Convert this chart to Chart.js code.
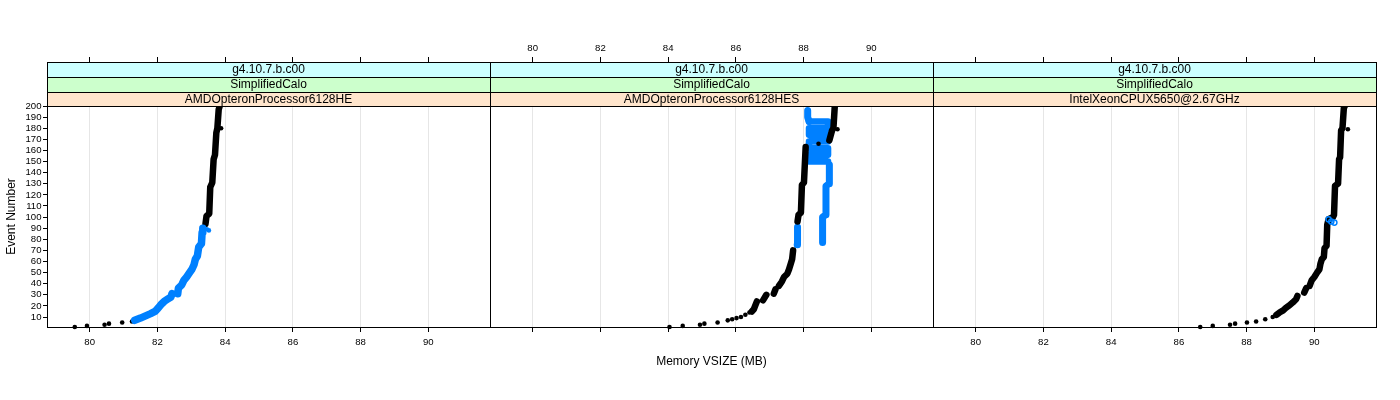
<!DOCTYPE html>
<html>
<head>
<meta charset="utf-8">
<script src="https://cdn.jsdelivr.net/npm/chart.js@4.4.1/dist/chart.umd.min.js"></script>
<style>
  body { margin: 0; background: #fff; }
  #wrap { position: relative; width: 1400px; height: 400px; }
  #wrap canvas { position: absolute; left: 0; top: 0; }
</style>
</head>
<body>
<div id="wrap">
  <canvas id="panel1" width="1400" height="400"></canvas>
  <canvas id="panel2" width="1400" height="400"></canvas>
  <canvas id="panel3" width="1400" height="400"></canvas>
</div>
<script>
// strip labels, top to bottom, one per panel
const releases = ["g4.10.7.b.c00", "g4.10.7.b.c00", "g4.10.7.b.c00"];
const tests = ["SimplifiedCalo", "SimplifiedCalo", "SimplifiedCalo"];
const machines = ["AMDOpteronProcessor6128HE", "AMDOpteronProcessor6128HES", "IntelXeonCPUX5650@2.67GHz"];

const xTicks = [80, 82, 84, 86, 88, 90];
const yTicks = [10, 20, 30, 40, 50, 60, 70, 80, 90, 100, 110, 120, 130, 140, 150, 160, 170, 180, 190, 200];

// panel 1 : AMDOpteronProcessor6128HE
const p1BlackDotMem = [79.56, 79.92, 80.44, 80.57, 80.96, 81.25, 83.88];
const p1BlackDotEvt = [1, 2, 3, 4, 5, 6, 180];
const p1BlackLineMem = [83.42, 83.45, 83.53, 83.56, 83.62, 83.66, 83.70, 83.74, 83.77, 83.81, 83.84];
const p1BlackLineEvt = [94, 101, 103, 127, 131, 152, 156, 176, 180, 197, 200];
const p1BlueDotMem = [83.46, 83.52];
const p1BlueDotEvt = [89, 88];
const p1BlueLineMem = [81.33, 81.50, 81.65, 81.80, 81.93, 82.02, 82.10, 82.20, 82.30, 82.40, 82.43, null, 82.60, 82.62, 82.72, 82.78, 82.86, 82.95, 83.02, 83.08, 83.12, 83.18, 83.22, 83.30, 83.32, 83.34];
const p1BlueLineEvt = [7, 9, 11, 13, 15, 18, 21, 24, 26, 28, 31, null, 31, 36, 39, 43, 46, 50, 53, 57, 62, 65, 73, 76, 86, 90];

// panel 2 : AMDOpteronProcessor6128HES
const p2BlackDotMem = [84.04, 84.43, 84.94, 85.07, 85.46, 85.76, 85.89, 86.02, 86.15, 86.28, 86.40, 88.44, 89.00];
const p2BlackDotEvt = [1, 2, 3, 4, 5, 7, 8, 9, 10, 12, 14, 166, 179];
const p2BlackLineMem = [86.47, 86.53, 86.58, 86.62, null, 86.80, 86.90, null, 87.12, 87.17, null, 87.27, 87.36, 87.42, 87.52, 87.57, 87.62, 87.66, 87.69, null, 87.82, 87.85, 87.92, 87.95, 88.01, 88.06, null, 88.76, 88.84, 88.88, 88.92];
const p2BlackLineEvt = [15, 17, 21, 24, null, 25, 30, null, 31, 35, null, 38, 42, 46, 49, 53, 58, 62, 70, null, 96, 102, 104, 129, 131, 163, null, 169, 178, 180, 200];
const p2BlueLineMem = [87.81, 87.82, null, 88.56, 88.56, 88.65, 88.66, 88.75, 88.76, null, 88.16, 88.12, 88.12];
const p2BlueLineEvt = [75, 91, null, 77, 100, 102, 128, 130, 147, null, 186, 190, 196];
// rows of the blue band between events 147 and 189
const p2BlueBandMem = [88.72, 88.16, 88.16, 88.72, 88.72, 88.16, 88.16, 88.72, 88.72, 88.16, 88.16, 88.72, 88.72, 88.16];
const p2BlueBandEvt = [150, 150, 156, 156, 162, 162, 168, 168, 174, 174, 180, 180, 186, 186];

// panel 3 : IntelXeonCPUX5650@2.67GHz
const p3BlackDotMem = [86.63, 87.00, 87.51, 87.66, 88.01, 88.28, 88.55, 88.77, 90.99];
const p3BlackDotEvt = [1, 2, 3, 4, 5, 6, 8, 10, 179];
const p3BlackLineMem = [88.88, 88.97, 89.08, 89.15, 89.24, 89.36, 89.46, 89.50, null, 89.70, 89.76, null, 89.86, 89.92, 90.00, 90.08, 90.15, 90.18, 90.22, 90.28, 90.30, 90.36, 90.38, 90.42, 90.55, 90.58, 90.61, 90.70, 90.73, 90.76, 90.79, 90.83, 90.87, 90.90];
const p3BlackLineEvt = [12, 14, 16, 18, 20, 23, 26, 29, null, 32, 36, null, 38, 43, 46, 50, 53, 58, 62, 64, 72, 74, 93, 98, 100, 102, 128, 130, 152, 154, 178, 180, 198, 200];
const p3BlueDotMem = [90.42, 90.50, 90.59];
const p3BlueDotEvt = [98, 96, 95];

const BLACK = "#000000";
const BLUE = "#0080ff";
const edges = [47, 490, 933, 1376]; // panel borders in px
const panelTop = 106;
const stripTop = 62;

Chart.defaults.font.family = '"Liberation Sans", Arial, Helvetica, sans-serif';
Chart.defaults.color = "#000";

function pts(mem, evt) {
  return mem.map((m, i) => ({ x: m, y: evt[i] }));
}

function dots(mem, evt, color, ring) {
  return {
    data: pts(mem, evt),
    showLine: false,
    pointRadius: ring ? 2.6 : 2.3,
    pointBackgroundColor: ring ? "rgba(0,0,0,0)" : color,
    pointBorderColor: color,
    pointBorderWidth: ring ? 1.5 : 0,
    clip: 6,
  };
}

function path(mem, evt, color, width) {
  return {
    data: pts(mem, evt),
    showLine: true,
    spanGaps: false,
    borderColor: color,
    borderWidth: width,
    borderCapStyle: "round",
    borderJoinStyle: "round",
    pointRadius: 0,
    clip: 6,
  };
}

// draws the three strips and the panel box on top of everything
const stripPlugin = {
  id: "strips",
  afterDraw(chart, args, opts) {
    const { ctx, chartArea: a } = chart;
    const colors = ["#ccffff", "#ccffcc", "#ffe5cc"];
    const rows = [stripTop, 77, 92, panelTop];
    ctx.save();
    ctx.font = '12px "Liberation Sans", Arial, sans-serif';
    ctx.textAlign = "center";
    ctx.textBaseline = "middle";
    opts.labels.forEach((t, i) => {
      ctx.fillStyle = colors[i];
      ctx.fillRect(a.left, rows[i], a.right - a.left, rows[i + 1] - rows[i]);
      ctx.fillStyle = "#000";
      ctx.fillText(t, (a.left + a.right) / 2, (rows[i] + rows[i + 1]) / 2 + 0.5);
    });
    ctx.strokeStyle = "#000";
    ctx.lineWidth = 1;
    ctx.beginPath();
    rows.forEach((y) => {
      ctx.moveTo(a.left, y + 0.5);
      ctx.lineTo(a.right + 1, y + 0.5);
    });
    ctx.stroke();
    ctx.strokeRect(a.left + 0.5, stripTop + 0.5, a.right - a.left, a.bottom - stripTop);
    ctx.restore();
  },
};

function makePanel(id, idx, datasets) {
  const left = edges[idx];
  const right = edges[idx + 1];
  return new Chart(document.getElementById(id), {
    type: "scatter",
    data: { datasets: datasets },
    plugins: [stripPlugin],
    options: {
      responsive: false,
      animation: false,
      events: [],
      layout: { padding: { left: idx === 0 ? 0 : left, right: 1400 - right, top: 0, bottom: 0 } },
      plugins: {
        legend: { display: false },
        tooltip: { enabled: false },
        strips: { labels: [releases[idx], tests[idx], machines[idx]] },
      },
      scales: {
        x: {
          type: "linear",
          position: "bottom",
          min: 78.74,
          max: 91.82,
          afterBuildTicks: (s) => { s.ticks = xTicks.map((v) => ({ value: v })); },
          afterFit: (s) => { s.height = 73; },
          grid: { color: "#e6e6e6", tickColor: "#000", tickLength: 5, drawOnChartArea: true },
          border: { display: false },
          ticks: {
            callback: (v) => (idx === 1 ? "" : v),
            font: { size: 9.6 },
            padding: 5,
            maxRotation: 0,
            autoSkip: false,
          },
          title: {
            display: idx === 1,
            text: "Memory VSIZE (MB)",
            font: { size: 12 },
            padding: { top: 0, bottom: 31 },
          },
        },
        xTop: {
          type: "linear",
          position: "top",
          min: 78.74,
          max: 91.82,
          afterBuildTicks: (s) => { s.ticks = xTicks.map((v) => ({ value: v })); },
          afterFit: (s) => { s.height = panelTop; },
          grid: { drawOnChartArea: false, tickColor: "#000", tickLength: panelTop - 57 },
          border: { display: false },
          ticks: {
            callback: (v) => (idx === 1 ? v : ""),
            font: { size: 9.6 },
            padding: 2.5,
            maxRotation: 0,
            autoSkip: false,
          },
        },
        y: {
          type: "linear",
          min: 1,
          max: 200,
          display: idx === 0,
          afterBuildTicks: (s) => { s.ticks = yTicks.map((v) => ({ value: v })); },
          afterFit: (s) => { s.width = idx === 0 ? edges[0] : 0; },
          grid: { drawOnChartArea: false, tickColor: "#000", tickLength: 4 },
          border: { display: false },
          ticks: { font: { size: 9.6 }, padding: 1.5, autoSkip: false },
          title: {
            display: true,
            text: "Event Number",
            font: { size: 12 },
            padding: { top: 4, bottom: 4 },
          },
        },
      },
    },
  });
}

// first dataset is drawn on top
makePanel("panel1", 0, [
  dots(p1BlueDotMem, p1BlueDotEvt, BLUE, false),
  path(p1BlueLineMem, p1BlueLineEvt, BLUE, 7.5),
  dots(p1BlackDotMem, p1BlackDotEvt, BLACK, false),
  path(p1BlackLineMem, p1BlackLineEvt, BLACK, 6.5),
]);

makePanel("panel2", 1, [
  dots(p2BlackDotMem, p2BlackDotEvt, BLACK, false),
  path(p2BlackLineMem, p2BlackLineEvt, BLACK, 6.5),
  path(p2BlueLineMem, p2BlueLineEvt, BLUE, 7),
  path(p2BlueBandMem, p2BlueBandEvt, BLUE, 6.6),
]);

makePanel("panel3", 2, [
  dots(p3BlueDotMem, p3BlueDotEvt, BLUE, true),
  dots(p3BlackDotMem, p3BlackDotEvt, BLACK, false),
  path(p3BlackLineMem, p3BlackLineEvt, BLACK, 6.5),
]);
</script>
</body>
</html>
